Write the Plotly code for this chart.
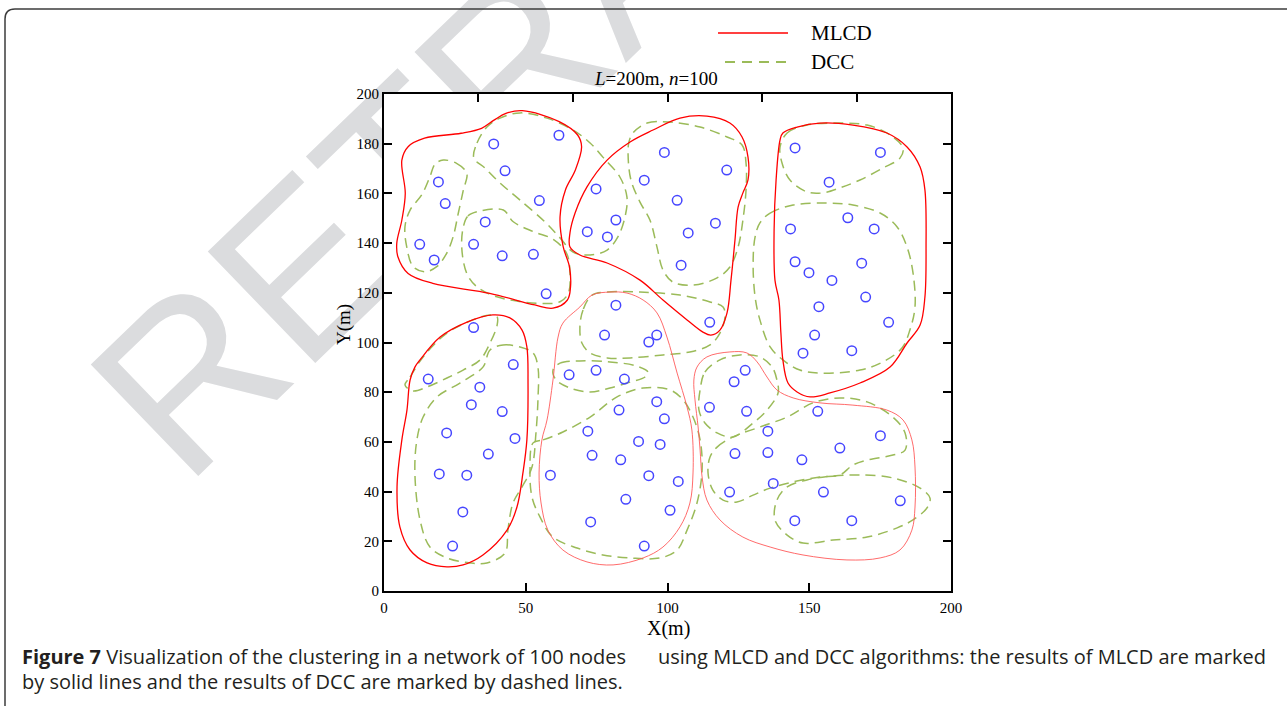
import plotly.graph_objects as go

# ---------------- data ----------------
NODE_X = [61.7, 38.7, 42.7, 19.2, 21.6, 54.8, 35.7, 12.6, 31.6, 17.7, 41.7, 52.7, 57.2,
          74.8, 71.7, 78.8, 81.8, 98.9, 120.9, 91.8, 103.4, 116.9, 107.3, 104.8, 114.9,
          145.0, 175.1, 157.0, 163.6, 143.4, 172.9, 145.0, 168.5, 149.9, 158.0, 169.9, 153.4,
          178.0, 151.9, 147.8, 165.0,
          31.6, 45.6, 15.6, 33.8, 30.8, 41.7, 22.1, 46.2, 36.8, 19.5, 29.2, 27.8, 24.2,
          81.8, 77.8, 96.2, 93.4, 65.3, 74.8, 84.8, 82.9, 96.2, 98.9, 71.9, 89.8, 97.4,
          73.4, 83.5, 93.4, 103.8, 58.7, 85.3, 100.9, 72.9, 91.8,
          127.4, 123.5, 114.8, 127.9, 153.0, 135.4, 175.1, 123.8, 135.4, 160.8, 147.4, 137.3,
          121.9, 155.0, 182.1, 144.9, 165.0]
NODE_Y = [183.4, 179.9, 169.1, 164.6, 155.9, 157.1, 148.5, 139.5, 139.5, 133.2, 134.9, 135.5, 119.6,
          161.8, 144.6, 142.5, 149.3, 176.5, 169.4, 165.3, 157.2, 148.0, 144.1, 131.1, 108.1,
          178.3, 176.5, 164.5, 150.2, 145.7, 145.7, 132.5, 131.9, 128.1, 125.0, 118.3, 114.4,
          108.1, 103.0, 95.7, 96.7,
          106.0, 91.1, 85.3, 82.0, 75.0, 72.2, 63.6, 61.4, 55.1, 47.1, 46.6, 31.8, 18.1,
          115.0, 103.0, 103.0, 100.2, 87.0, 88.8, 85.3, 72.8, 76.2, 69.3, 64.3, 60.2, 59.0,
          54.6, 52.8, 46.4, 44.1, 46.6, 36.9, 32.5, 27.8, 18.1,
          88.8, 84.2, 73.9, 72.3, 72.3, 64.3, 62.5, 55.3, 55.7, 57.5, 52.8, 43.3,
          39.8, 39.8, 36.3, 28.3, 28.3]

# MLCD cluster outlines (solid)
MLCD_A = [(48.8, 193.3), (61.8, 188.9), (68.3, 183.5), (69.7, 178.8), (67.5, 169.4), (64.0, 161.4),
          (62.1, 150.6), (63.2, 138.6), (65.4, 130.5), (65.8, 122.5), (64.7, 117.1), (59.6, 113.8),
          (53.2, 115.1), (37.3, 119.8), (17.2, 123.8), (8.5, 127.8), (4.9, 134.5), (4.5, 139.9),
          (6.3, 149.3), (7.5, 160.0), (6.3, 173.4), (8.5, 178.8), (14.3, 182.2), (27.2, 184.2),
          (34.4, 186.2), (38.8, 189.5), (43.0, 192.2)]
MLCD_B = [(104.4, 190.3), (113.9, 191.1), (122.0, 188.3), (126.3, 182.7), (128.4, 174.6), (128.4, 165.4),
          (126.6, 160.2), (124.9, 154.5), (123.8, 141.2), (122.4, 125.1), (121.0, 111.9), (118.5, 105.0),
          (115.3, 103.0), (112.5, 104.2), (106.9, 109.1), (98.4, 117.1), (90.3, 125.1), (78.7, 132.0),
          (69.1, 135.2), (65.6, 138.4), (65.6, 144.1), (67.4, 152.1), (71.6, 162.6), (78.7, 173.4),
          (86.8, 180.7), (94.9, 185.5)]
MLCD_C = [(139.7, 181.5), (140.7, 184.3), (145.7, 186.7), (153.8, 188.3), (165.4, 187.5), (177.4, 184.3),
          (184.5, 178.7), (189.1, 170.6), (190.8, 161.4), (191.2, 138.4), (190.8, 118.3), (189.1, 107.0),
          (184.5, 99.8), (178.5, 90.1), (167.9, 83.7), (157.3, 79.7), (150.3, 78.1), (145.7, 80.1),
          (142.5, 83.7), (140.7, 93.0), (140.0, 103.8), (139.3, 117.1), (137.9, 125.1), (137.6, 145.3),
          (138.3, 165.4)]
MLCD_D = [(9.2, 84.9), (10.9, 90.1), (12.7, 93.0), (19.8, 102.2), (29.3, 108.2), (38.4, 111.1),
          (44.4, 109.9), (48.7, 105.0), (50.4, 98.2), (50.8, 83.7), (50.4, 60.8), (49.0, 47.5),
          (46.9, 33.8), (43.4, 24.5), (34.9, 14.5), (27.9, 10.5), (22.2, 9.7), (15.2, 11.3),
          (9.2, 16.5), (5.6, 25.8), (4.6, 41.9), (6.3, 60.8), (8.1, 72.8)]
MLCD_E = [(73.4, 119.1), (79.7, 120.3), (85.7, 119.9), (91.4, 117.1), (96.3, 111.9), (99.8, 102.2),
          (103.4, 87.7), (106.9, 74.0), (108.6, 64.8), (109.0, 47.5), (107.9, 35.4), (104.4, 25.8),
          (98.4, 17.7), (91.4, 13.3), (80.8, 10.5), (71.6, 11.7), (63.1, 16.5), (57.8, 24.5),
          (55.4, 35.4), (54.7, 47.5), (55.7, 60.8), (57.5, 68.8), (59.6, 84.9), (61.4, 102.2),
          (63.1, 107.8), (69.1, 114.3)]
MLCD_F = [(110.4, 90.1), (113.9, 94.2), (122.0, 96.2), (128.0, 95.8), (131.6, 92.2), (135.1, 86.1),
          (138.6, 80.9), (144.3, 77.7), (153.8, 75.7), (165.4, 74.8), (177.4, 72.8), (183.1, 68.8),
          (186.2, 60.8), (187.3, 49.9), (187.3, 33.8), (186.2, 24.5), (182.0, 16.5), (175.0, 13.3),
          (163.3, 12.5), (147.8, 14.5), (136.2, 17.7), (126.6, 21.7), (118.5, 28.6), (113.9, 36.6),
          (112.2, 45.9), (111.5, 56.7), (110.8, 66.0), (109.7, 76.9), (109.3, 84.9)]

# DCC cluster outlines (dashed)
DCC_A1 = [(20.9, 173.4), (25.6, 172.1), (29.2, 168.1), (28.0, 161.4), (26.2, 152.0), (24.4, 142.6),
          (22.1, 135.9), (18.6, 130.5), (14.5, 128.5), (10.3, 130.5), (8.0, 138.6), (7.4, 146.6),
          (9.2, 153.3), (13.3, 159.4), (16.2, 166.7), (18.0, 171.8)]
DCC_A2 = [(31.7, 174.2), (32.8, 180.3), (36.3, 186.7), (40.9, 190.3), (48.0, 192.4), (57.5, 190.3),
          (66.7, 185.5), (72.7, 180.3), (77.2, 174.6), (83.2, 166.6), (85.7, 158.5), (85.0, 150.5),
          (82.5, 142.5), (78.7, 137.2), (72.7, 135.2), (66.7, 136.4), (62.1, 142.1), (56.8, 148.5),
          (48.0, 157.3), (40.9, 164.2), (35.6, 170.2)]
DCC_A3 = [(28.0, 146.6), (29.6, 150.9), (33.9, 152.9), (42.1, 153.3), (45.6, 148.6), (52.7, 144.6),
          (59.7, 141.5), (64.4, 135.9), (65.6, 127.8), (65.0, 119.8), (62.1, 116.4), (53.9, 115.8),
          (39.8, 118.4), (32.7, 122.5), (29.2, 127.8), (27.4, 138.6)]
DCC_B1 = [(87.8, 184.3), (92.8, 188.3), (100.9, 188.7), (111.5, 186.7), (121.0, 182.7), (126.3, 179.5),
          (127.7, 172.2), (127.7, 161.4), (126.6, 149.3), (124.9, 138.4), (122.0, 130.4), (117.5, 126.0),
          (109.0, 123.1), (101.9, 124.3), (98.4, 129.2), (96.3, 138.4), (93.8, 149.3), (90.3, 156.5),
          (87.1, 165.4), (86.1, 175.5), (86.4, 180.7)]
DCC_B2 = [(73.4, 119.1), (70.2, 113.1), (69.1, 106.2), (69.8, 99.8), (72.7, 95.8), (78.7, 93.8),
          (86.8, 93.8), (98.4, 95.0), (107.9, 96.2), (115.0, 99.0), (118.5, 103.8), (120.3, 110.3),
          (119.6, 114.3), (115.0, 116.3), (104.4, 119.1), (90.3, 120.3), (78.7, 120.3)]
DCC_C1 = [(139.7, 178.7), (142.2, 184.3), (149.2, 187.5), (159.8, 188.3), (170.4, 187.5), (178.5, 183.5),
          (183.1, 178.3), (182.0, 174.2), (176.0, 170.2), (167.9, 165.4), (160.8, 162.2), (154.8, 160.2),
          (149.2, 160.6), (143.2, 165.4), (140.4, 172.2)]
DCC_C2 = [(132.6, 148.1), (136.2, 152.1), (144.3, 155.3), (156.3, 156.1), (165.4, 155.3), (175.0, 152.1),
          (181.0, 146.5), (184.5, 138.4), (186.6, 128.0), (187.3, 114.3), (185.5, 105.0), (182.7, 97.8),
          (176.0, 92.2), (167.9, 88.9), (153.8, 87.7), (146.7, 88.9), (140.7, 93.0), (136.2, 98.2),
          (132.6, 109.1), (130.9, 118.3), (130.2, 132.0), (130.9, 142.5)]
DCC_D1 = [(7.4, 82.9), (9.2, 86.1), (13.8, 94.2), (22.2, 103.8), (31.4, 109.1), (37.4, 111.1),
          (39.9, 110.3), (39.9, 107.0), (37.4, 99.8), (33.9, 93.0), (27.9, 88.9), (22.2, 85.7),
          (15.2, 82.1), (10.2, 80.5)]
DCC_D2 = [(37.4, 97.0), (42.0, 99.0), (48.0, 98.2), (52.6, 95.8), (54.3, 90.1), (54.3, 76.9),
          (53.6, 63.6), (52.2, 49.9), (48.7, 41.9), (45.5, 35.4), (43.7, 24.5), (42.7, 15.3),
          (36.3, 11.3), (30.3, 11.3), (22.2, 13.3), (16.2, 17.7), (12.7, 28.6), (10.9, 47.5),
          (11.6, 60.8), (13.8, 70.0), (18.7, 78.1), (26.8, 83.7), (34.9, 90.1)]
DCC_E1 = [(59.6, 88.9), (62.1, 91.7), (69.1, 92.6), (79.7, 92.2), (89.2, 90.5), (93.1, 88.1),
          (92.1, 86.1), (86.8, 84.1), (79.7, 81.7), (72.7, 80.1), (65.6, 81.7), (60.7, 84.9)]
DCC_E2 = [(52.6, 59.6), (56.1, 60.8), (63.1, 64.0), (72.7, 70.0), (82.2, 78.1), (91.4, 81.7),
          (100.9, 80.9), (105.5, 76.9), (109.0, 70.0), (111.5, 60.8), (112.2, 48.7), (110.4, 35.4),
          (106.9, 24.5), (103.4, 16.5), (97.4, 13.3), (86.8, 13.3), (77.2, 14.5), (68.1, 17.3),
          (59.6, 21.7), (55.0, 29.8), (52.2, 37.8), (51.5, 48.7)]
DCC_F1 = [(111.5, 80.9), (113.2, 88.1), (118.5, 93.0), (125.6, 95.0), (132.6, 94.2), (136.9, 90.1),
          (138.6, 84.9), (139.0, 79.7), (135.1, 72.8), (130.2, 67.6), (123.1, 62.0), (117.5, 63.6),
          (113.2, 67.6), (111.1, 72.8)]
DCC_F2 = [(115.0, 53.9), (117.5, 57.9), (123.1, 62.0), (132.6, 66.0), (142.2, 70.0), (151.3, 75.7),
          (160.8, 77.7), (170.4, 76.1), (179.5, 70.0), (183.8, 63.6), (183.8, 56.7), (179.5, 54.7),
          (170.4, 52.7), (165.4, 50.7), (160.8, 46.7), (153.8, 45.9), (144.3, 43.9), (136.2, 41.4),
          (130.2, 38.6), (124.5, 35.8), (119.6, 36.6), (116.0, 40.6), (114.3, 47.5)]
DCC_F3 = [(138.6, 36.6), (142.2, 41.9), (149.2, 44.7), (158.4, 46.3), (167.9, 46.7), (179.5, 45.5),
          (189.1, 41.4), (192.6, 37.4), (191.5, 33.4), (186.6, 28.6), (181.0, 25.4), (170.4, 21.7),
          (158.4, 20.5), (147.8, 19.3), (142.2, 22.5), (137.9, 28.6)]

MLCD_BOLD = [MLCD_A, MLCD_B, MLCD_C, MLCD_D]
MLCD_THIN = [MLCD_E, MLCD_F]
DCC_ALL = [DCC_A1, DCC_A2, DCC_A3, DCC_B1, DCC_B2, DCC_C1, DCC_C2,
           DCC_D1, DCC_D2, DCC_E1, DCC_E2, DCC_F1, DCC_F2, DCC_F3]

X_TICKS = [0, 50, 100, 150, 200]
Y_TICKS = [0, 20, 40, 60, 80, 100, 120, 140, 160, 180, 200]
TOP_TICKS = [33.33, 66.67, 100, 133.33, 166.67]

CAPTION_1A = "<b>Figure 7</b> Visualization of the clustering in a network of 100 nodes"
CAPTION_1B = "using MLCD and DCC algorithms: the results of MLCD are marked"
CAPTION_2 = "by solid lines and the results of DCC are marked by dashed lines."

SERIF = "Liberation Serif, Times New Roman, serif"
SANS = "Open Sans, sans-serif"
RED = "#ff0000"
RED_THIN = "#ff5a5a"
GREEN = "#9bbb59"
BLUE = "#4646ff"


def closed(curve):
    xs = [p[0] for p in curve] + [curve[0][0]]
    ys = [p[1] for p in curve] + [curve[0][1]]
    return xs, ys


fig = go.Figure()

for c in DCC_ALL:
    xs, ys = closed(c)
    fig.add_trace(go.Scatter(x=xs, y=ys, mode="lines", showlegend=False, hoverinfo="skip",
                             line=dict(color=GREEN, width=1.5, dash="10px,6px",
                                       shape="spline", smoothing=1.0)))
for c in MLCD_BOLD:
    xs, ys = closed(c)
    fig.add_trace(go.Scatter(x=xs, y=ys, mode="lines", showlegend=False, hoverinfo="skip",
                             line=dict(color=RED, width=1.3, shape="spline", smoothing=1.0)))
for c in MLCD_THIN:
    xs, ys = closed(c)
    fig.add_trace(go.Scatter(x=xs, y=ys, mode="lines", showlegend=False, hoverinfo="skip",
                             line=dict(color=RED_THIN, width=0.9, shape="spline", smoothing=1.0)))

fig.add_trace(go.Scatter(x=NODE_X, y=NODE_Y, mode="markers", showlegend=False,
                         marker=dict(symbol="circle-open", size=9.5, color=BLUE,
                                     line=dict(width=1.5, color=BLUE))))
# empty trace to host the top axis
fig.add_trace(go.Scatter(x=[], y=[], xaxis="x2", yaxis="y", showlegend=False))

L, T, W, H = 384, 94, 567, 497


def px(x):
    return (x - L) / W


def py(y):
    return (T + H - y) / H


shapes = [
    # watermark (drawn below, then hidden inside the plot by the white panel)
    dict(type="rect", xref="paper", yref="paper", x0=0.39, x1=0.41, y0=1.30, y1=1.32,
         line=dict(width=0), fillcolor="rgba(0,0,0,0)", layer="below",
         label=dict(text="RETRACTED", textangle=-44, textposition="middle center",
                    font=dict(family="Liberation Sans, Arial, sans-serif", size=225,
                              color="#dbdcde"))),
    dict(type="rect", xref="paper", yref="paper", x0=0, x1=1, y0=0, y1=1,
         line=dict(width=0), fillcolor="white", layer="below"),
    # page frame
    dict(type="path", xref="paper", yref="paper",
         path=f"M {px(5)},{py(720)} L {px(5)},{py(19)} Q {px(5)},{py(9)} {px(15)},{py(9)} L {px(1300)},{py(9)}",
         line=dict(color="#3c3c3c", width=1.5), layer="above"),
    # legend samples
    dict(type="line", xref="paper", yref="paper", x0=px(718), x1=px(788), y0=py(33), y1=py(33),
         line=dict(color=RED, width=1.5)),
    dict(type="line", xref="paper", yref="paper", x0=px(725), x1=px(788), y0=py(62), y1=py(62),
         line=dict(color=GREEN, width=1.8, dash="10px,7px")),
]

annotations = [
    dict(text="MLCD", x=px(809), y=py(33), xref="paper", yref="paper", xanchor="left",
         yanchor="middle", showarrow=False, font=dict(family=SERIF, size=21, color="black")),
    dict(text="DCC", x=px(809), y=py(62), xref="paper", yref="paper", xanchor="left",
         yanchor="middle", showarrow=False, font=dict(family=SERIF, size=21, color="black")),
    dict(text="<i>L</i>=200m, <i>n</i>=100", x=px(656), y=py(78), xref="paper", yref="paper",
         xanchor="center", yanchor="middle", showarrow=False,
         font=dict(family=SERIF, size=19, color="black")),
    dict(text="Y(m)", x=px(344), y=py(325), xref="paper", yref="paper", textangle=-90,
         xanchor="center", yanchor="middle", showarrow=False,
         font=dict(family=SERIF, size=19, color="black")),
    dict(text="X(m)", x=px(668), y=py(628), xref="paper", yref="paper",
         xanchor="center", yanchor="middle", showarrow=False,
         font=dict(family=SERIF, size=20, color="black")),
    dict(text=CAPTION_1A, x=px(20), y=py(656), xref="paper", yref="paper", xanchor="left",
         yanchor="middle", showarrow=False, font=dict(family=SANS, size=20, color="#231f20")),
    dict(text=CAPTION_1B, x=px(1268), y=py(656), xref="paper", yref="paper", xanchor="right",
         yanchor="middle", showarrow=False, font=dict(family=SANS, size=20, color="#231f20")),
    dict(text=CAPTION_2, x=px(20), y=py(681), xref="paper", yref="paper", xanchor="left",
         yanchor="middle", showarrow=False, font=dict(family=SANS, size=20, color="#231f20")),
]

axis_common = dict(range=[0, 200], showgrid=False, zeroline=False, showline=True,
                   linecolor="black", linewidth=2, ticks="inside", ticklen=8, tickwidth=1.5,
                   tickcolor="black", tickfont=dict(family=SERIF, size=15, color="black"))

fig.update_layout(
    width=1287, height=706,
    margin=dict(l=L, r=1287 - L - W, t=T, b=706 - T - H, pad=0),
    paper_bgcolor="white", plot_bgcolor="white",
    showlegend=False,
    xaxis=dict(axis_common, tickvals=X_TICKS, mirror=False, ticklabelstandoff=2),
    xaxis2=dict(axis_common, overlaying="x", side="top", anchor="y", tickvals=TOP_TICKS,
                showticklabels=False),
    yaxis=dict(axis_common, tickvals=Y_TICKS, mirror="ticks"),
    shapes=shapes,
    annotations=annotations,
)

fig.write_html("out.html", config={"displayModeBar": False},
               post_script="document.body.style.margin='0';")
